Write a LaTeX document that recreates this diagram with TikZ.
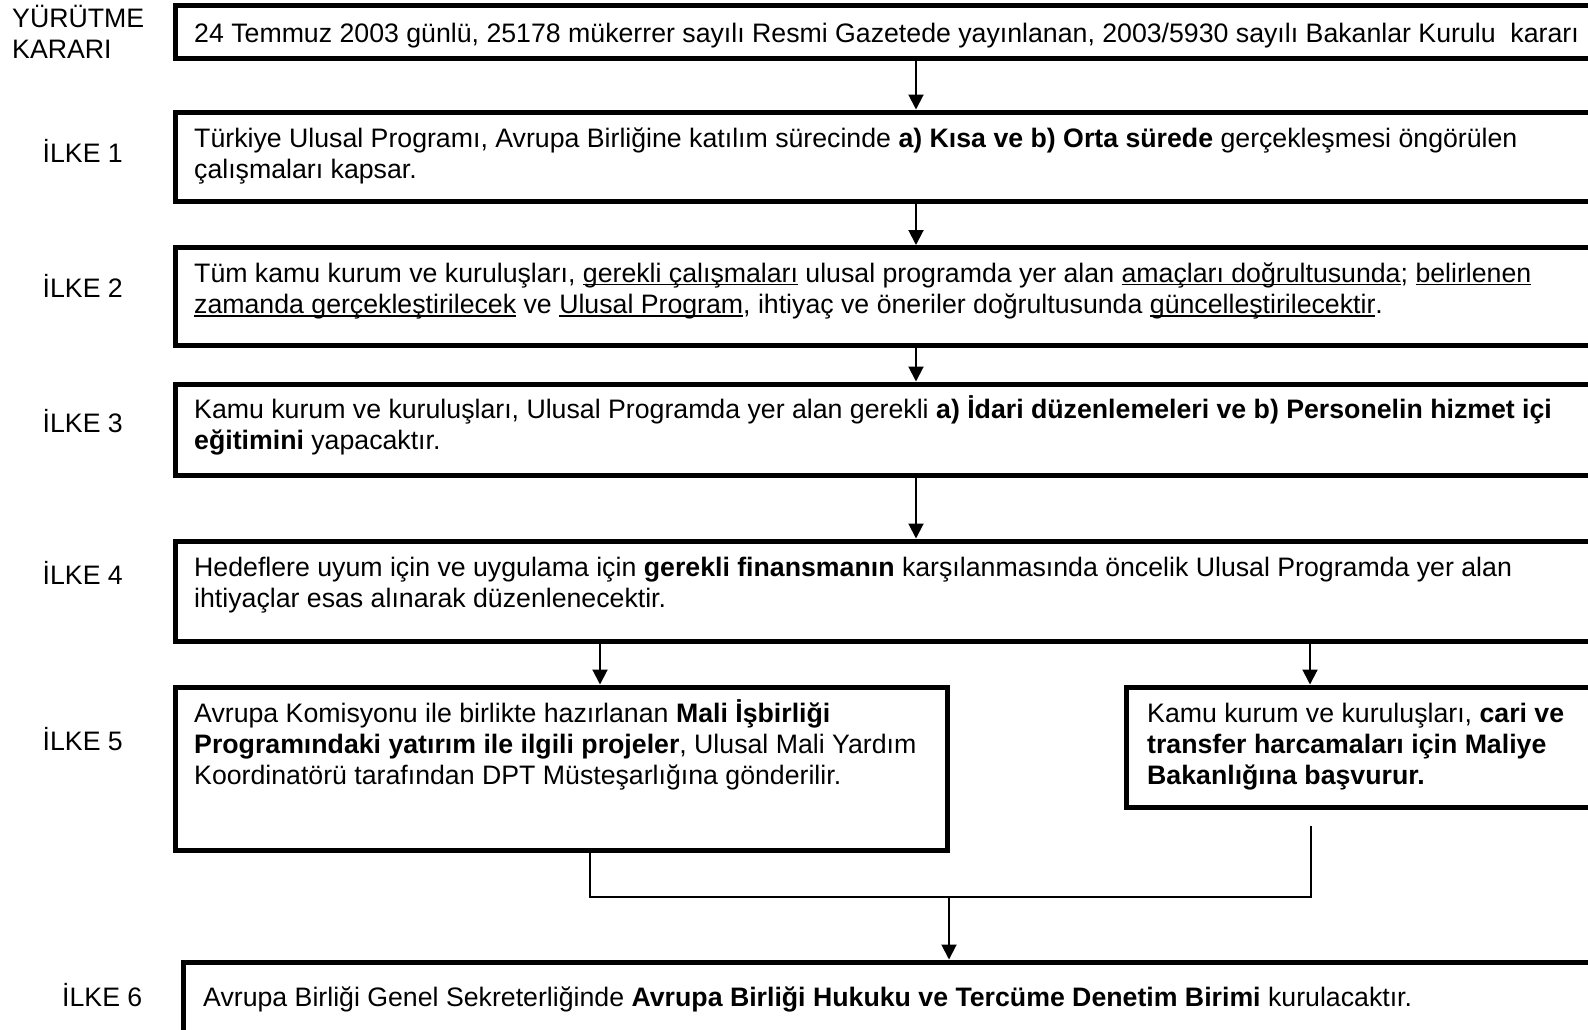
\documentclass[tikz,border=0pt]{standalone}
\usepackage{fontspec}
\setmainfont{Liberation Sans}
\usetikzlibrary{arrows.meta}
\newcommand\uln[1]{\leavevmode\setbox0\hbox{#1}\rlap{\rule[-2.8pt]{\wd0}{1.6pt}}\box0\relax}
\newcommand\fs{\fontsize{26.7}{31.4}\selectfont}
\begin{document}
\begin{tikzpicture}[x=1pt,y=-1pt,
  frame/.style={draw, line width=5pt, inner sep=0pt, rectangle},
  conn/.style={line width=2pt},
  arr/.style={conn, -{Triangle[length=15pt,width=15pt]}},
  txt/.style={anchor=base west, inner sep=0pt, font=\fs},
  lbl/.style={anchor=base west, inner sep=0pt, font=\fs}]
\useasboundingbox (0,0) rectangle (1588,1029);
\clip (0,0) rectangle (1588,1029);
\fill[white] (0,0) rectangle (1588,1029);

% boxes
\node[frame, minimum width=1465, minimum height=52.5] (b1) at (907.5,31.75) {};
\node[frame, minimum width=1465, minimum height=89.5] (b2) at (907.5,156.75) {};
\node[frame, minimum width=1465, minimum height=98] (b3) at (907.5,296.5) {};
\node[frame, minimum width=1465, minimum height=91] (b4) at (907.5,429.5) {};
\node[frame, minimum width=1465, minimum height=100] (b5) at (907.5,591) {};
\node[frame, minimum width=772, minimum height=163] (b6l) at (561,768.5) {};
\node[frame, minimum width=514, minimum height=120.5] (b6r) at (1383,747.25) {};
\node[frame, minimum width=1456.5, minimum height=70] (b7) at (911.75,997) {};

% labels
\node[lbl] (l0) at (12,27.5) {\vtop{\hbox{YÜRÜTME}\hbox{KARARI}}};
\node[lbl] (l1) at (42.5,162) {İLKE 1};
\node[lbl] (l2) at (42.5,297) {İLKE 2};
\node[lbl] (l3) at (42.5,432) {İLKE 3};
\node[lbl] (l4) at (42.5,584) {İLKE 4};
\node[lbl] (l5) at (42.5,750.5) {İLKE 5};
\node[lbl] (l6) at (62,1006) {İLKE 6};

% texts
\node[txt] (t1) at (194,42.5) {24 Temmuz 2003 günlü, 25178 mükerrer sayılı Resmi Gazetede yayınlanan, 2003/5930 sayılı Bakanlar Kurulu \ kararı};
\node[txt] (t2) at (194,147) {\vtop{\hbox{Türkiye Ulusal Programı, Avrupa Birliğine katılım sürecinde \textbf{a) Kısa ve b) Orta sürede} gerçekleşmesi öngörülen}\hbox{çalışmaları kapsar.}}};
\node[txt] (t3) at (194,282.5) {\vtop{\hbox{Tüm kamu kurum ve kuruluşları, \uln{gerekli çalışmaları} ulusal programda yer alan \uln{amaçları doğrultusunda}; \uln{belirlenen}}\hbox{\uln{zamanda gerçekleştirilecek} ve \uln{Ulusal Program}, ihtiyaç ve öneriler doğrultusunda \uln{güncelleştirilecektir}.}}};
\node[txt] (t4) at (194,418) {\vtop{\hbox{Kamu kurum ve kuruluşları, Ulusal Programda yer alan gerekli \textbf{a) İdari düzenlemeleri ve b) Personelin hizmet içi}}\hbox{\textbf{eğitimini} yapacaktır.}}};
\node[txt] (t5) at (194,576) {\vtop{\hbox{Hedeflere uyum için ve uygulama için \textbf{gerekli finansmanın} karşılanmasında öncelik Ulusal Programda yer alan}\hbox{ihtiyaçlar esas alınarak düzenlenecektir.}}};
\node[txt] (t6l) at (194,722) {\vtop{\hbox{Avrupa Komisyonu ile birlikte hazırlanan \textbf{Mali İşbirliği}}\hbox{\textbf{Programındaki yatırım ile ilgili projeler}, Ulusal Mali Yardım}\hbox{Koordinatörü tarafından DPT Müsteşarlığına gönderilir.}}};
\node[txt] (t6r) at (1147,722) {\vtop{\hbox{Kamu kurum ve kuruluşları, \textbf{cari ve}}\hbox{\textbf{transfer harcamaları için Maliye}}\hbox{\textbf{Bakanlığına başvurur.}}}};
\node[txt] (t7) at (203,1006) {Avrupa Birliği Genel Sekreterliğinde \textbf{Avrupa Birliği Hukuku ve Tercüme Denetim Birimi} kurulacaktır.};

% connectors
\coordinate (ax) at (916,0);
\coordinate (al) at (600,0);
\coordinate (ar) at (1310,0);
\coordinate (dl) at (590,0);
\coordinate (dr) at (1311,826);
\coordinate (j) at (949,897);
\draw[arr] (b1.south -| ax) -- (b2.north -| ax);
\draw[arr] (b2.south -| ax) -- (b3.north -| ax);
\draw[arr] (b3.south -| ax) -- (b4.north -| ax);
\draw[arr] (b4.south -| ax) -- (b5.north -| ax);
\draw[arr] (b5.south -| al) -- (b6l.north -| al);
\draw[arr] (b5.south -| ar) -- (b6r.north -| ar);
\draw[conn] (b6l.south -| dl) |- (j) -| (dr);
\draw[arr] (j) -- (b7.north -| j);
\end{tikzpicture}
\end{document}
